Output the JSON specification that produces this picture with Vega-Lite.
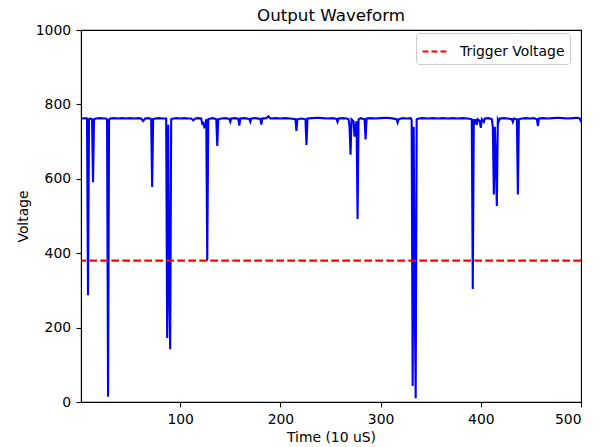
{
  "$schema": "https://vega.github.io/schema/vega-lite/v6.json",
  "width": 500,
  "height": 372,
  "autosize": {"type": "none"},
  "padding": {"left": 81, "top": 30, "right": 21, "bottom": 45},
  "background": "white",
  "title": {"text": "Output Waveform", "fontSize": 16.7, "fontWeight": "normal", "font": "DejaVu Sans", "color": "black", "offset": -2},
  "config": {
    "view": {"stroke": "black", "strokeWidth": 1.1},
    "axis": {
      "grid": false, "domainColor": "black", "domainWidth": 1.1, "tickColor": "black", "tickWidth": 1.1, "tickSize": 4.9,
      "labelFont": "DejaVu Sans", "labelFontSize": 13.9, "labelColor": "black", "labelPadding": 5.5,
      "titleFont": "DejaVu Sans", "titleFontSize": 13.9, "titleFontWeight": "normal", "titleColor": "black"
    },
    "legend": {
      "orient": "none", "legendX": 335, "legendY": 3, "title": null,
      "strokeColor": "#cccccc", "fillColor": "white", "padding": 5, "cornerRadius": 3,
      "symbolType": "stroke", "symbolSize": 576, "symbolStrokeWidth": 2.1, "symbolDash": [6, 3],
      "labelFont": "DejaVu Sans", "labelFontSize": 13.9, "labelColor": "black", "labelOffset": 12
    }
  },
  "datasets": {
    "wave": [
      {"t":1,"v":763},{"t":4,"v":762},{"t":6,"v":763},{"t":7,"v":762},{"t":8,"v":287},{"t":9,"v":760},{"t":10,"v":762},{"t":12,"v":760},{"t":13,"v":591},{"t":14,"v":760},{"t":16,"v":762},{"t":20,"v":763},{"t":24,"v":762},{"t":26,"v":762},{"t":27,"v":760},{"t":28,"v":14},{"t":29,"v":758},{"t":30,"v":762},{"t":34,"v":763},{"t":38,"v":762},{"t":42,"v":763},{"t":46,"v":762},{"t":50,"v":763},{"t":54,"v":762},{"t":58,"v":763},{"t":61,"v":762},{"t":63,"v":755},{"t":65,"v":762},{"t":68,"v":763},{"t":70,"v":762},{"t":71,"v":760},{"t":72,"v":578},{"t":73,"v":760},{"t":75,"v":762},{"t":79,"v":763},{"t":83,"v":762},{"t":86,"v":762},{"t":87,"v":172},{"t":88,"v":745},{"t":89,"v":300},{"t":90,"v":142},{"t":91,"v":760},{"t":93,"v":762},{"t":97,"v":763},{"t":100,"v":762},{"t":104,"v":763},{"t":108,"v":762},{"t":111,"v":762},{"t":113,"v":757},{"t":115,"v":762},{"t":118,"v":763},{"t":121,"v":762},{"t":122,"v":748},{"t":123,"v":750},{"t":124,"v":740},{"t":125,"v":745},{"t":126,"v":760},{"t":127,"v":380},{"t":128,"v":760},{"t":130,"v":762},{"t":133,"v":763},{"t":136,"v":760},{"t":137,"v":688},{"t":138,"v":760},{"t":141,"v":762},{"t":145,"v":763},{"t":149,"v":761},{"t":150,"v":753},{"t":151,"v":762},{"t":155,"v":763},{"t":158,"v":761},{"t":159,"v":743},{"t":160,"v":762},{"t":164,"v":763},{"t":169,"v":761},{"t":170,"v":753},{"t":171,"v":762},{"t":175,"v":763},{"t":180,"v":761},{"t":181,"v":746},{"t":182,"v":762},{"t":186,"v":763},{"t":188,"v":768},{"t":190,"v":762},{"t":195,"v":763},{"t":200,"v":762},{"t":205,"v":763},{"t":210,"v":762},{"t":215,"v":760},{"t":216,"v":729},{"t":217,"v":760},{"t":221,"v":762},{"t":225,"v":760},{"t":226,"v":691},{"t":227,"v":762},{"t":232,"v":763},{"t":237,"v":764},{"t":242,"v":763},{"t":247,"v":762},{"t":252,"v":763},{"t":256,"v":761},{"t":257,"v":753},{"t":258,"v":762},{"t":262,"v":763},{"t":266,"v":762},{"t":268,"v":760},{"t":269,"v":740},{"t":270,"v":665},{"t":271,"v":760},{"t":273,"v":755},{"t":274,"v":713},{"t":275,"v":740},{"t":276,"v":755},{"t":277,"v":492},{"t":278,"v":760},{"t":280,"v":763},{"t":284,"v":760},{"t":285,"v":706},{"t":286,"v":762},{"t":290,"v":763},{"t":295,"v":762},{"t":300,"v":763},{"t":305,"v":764},{"t":310,"v":763},{"t":316,"v":760},{"t":317,"v":751},{"t":318,"v":760},{"t":322,"v":763},{"t":326,"v":762},{"t":330,"v":763},{"t":331,"v":758},{"t":332,"v":43},{"t":333,"v":740},{"t":334,"v":300},{"t":335,"v":10},{"t":336,"v":760},{"t":338,"v":762},{"t":342,"v":763},{"t":347,"v":762},{"t":352,"v":763},{"t":357,"v":762},{"t":362,"v":763},{"t":367,"v":762},{"t":372,"v":763},{"t":377,"v":762},{"t":382,"v":763},{"t":387,"v":762},{"t":391,"v":760},{"t":392,"v":304},{"t":393,"v":760},{"t":394,"v":752},{"t":395,"v":760},{"t":396,"v":745},{"t":397,"v":760},{"t":399,"v":755},{"t":400,"v":737},{"t":401,"v":760},{"t":403,"v":753},{"t":404,"v":762},{"t":408,"v":763},{"t":411,"v":760},{"t":412,"v":740},{"t":413,"v":558},{"t":414,"v":740},{"t":415,"v":650},{"t":416,"v":527},{"t":417,"v":760},{"t":418,"v":755},{"t":419,"v":762},{"t":423,"v":763},{"t":427,"v":762},{"t":431,"v":760},{"t":432,"v":753},{"t":433,"v":762},{"t":436,"v":760},{"t":437,"v":558},{"t":438,"v":760},{"t":441,"v":762},{"t":445,"v":763},{"t":449,"v":762},{"t":453,"v":763},{"t":456,"v":760},{"t":457,"v":742},{"t":458,"v":762},{"t":462,"v":763},{"t":467,"v":762},{"t":472,"v":763},{"t":477,"v":764},{"t":482,"v":763},{"t":487,"v":762},{"t":492,"v":763},{"t":496,"v":764},{"t":498,"v":763},{"t":499,"v":762},{"t":500,"v":752}
    ],
    "trigger": [{"y": 380, "label": "Trigger Voltage"}]
  },
  "layer": [
    {
      "data": {"name": "wave"},
      "mark": {"type": "line", "color": "#0000ff", "strokeWidth": 2.1, "clip": true},
      "encoding": {
        "x": {"field": "t", "type": "quantitative", "scale": {"domain": [1, 500], "nice": false, "zero": false}, "axis": {"values": [100, 200, 300, 400, 500], "title": "Time (10 uS)", "labelPadding": 6, "titlePadding": 4}},
        "y": {"field": "v", "type": "quantitative", "scale": {"domain": [0, 1000], "nice": false}, "axis": {"values": [0, 200, 400, 600, 800, 1000], "format": "d", "title": "Voltage", "titlePadding": 5}}
      }
    },
    {
      "data": {"name": "trigger"},
      "mark": {"type": "rule", "strokeWidth": 2.1, "strokeDash": [7.7, 3.3]},
      "encoding": {
        "y": {"field": "y", "type": "quantitative"},
        "color": {"field": "label", "type": "nominal", "scale": {"range": ["#ff0000"]}}
      }
    }
  ]
}
